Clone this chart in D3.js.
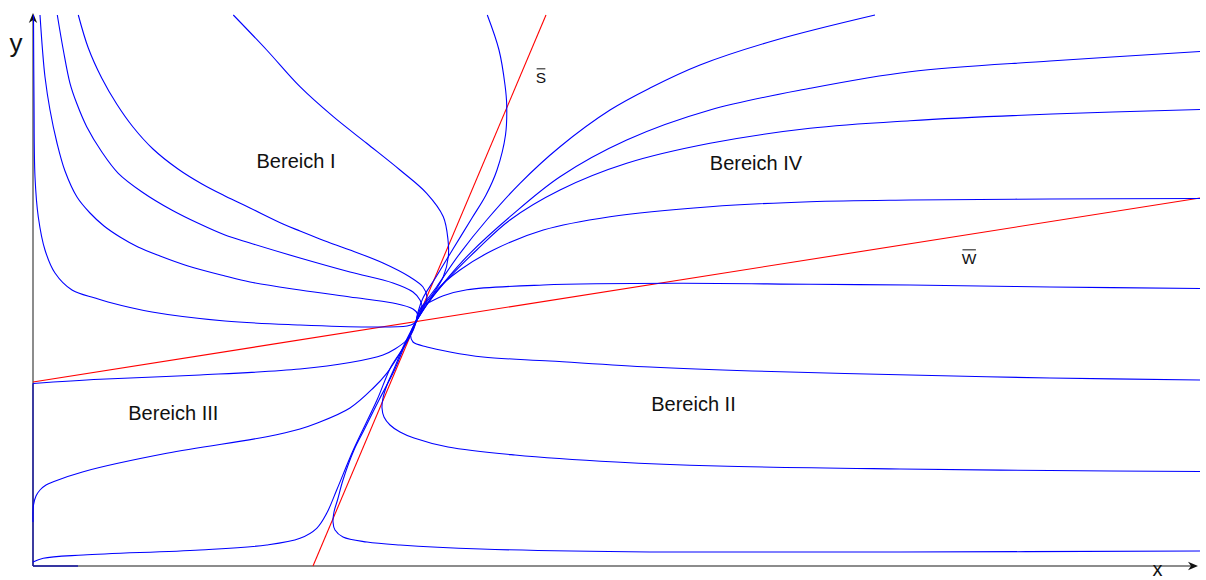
<!DOCTYPE html>
<html>
<head>
<meta charset="utf-8">
<script src="https://cdn.jsdelivr.net/npm/d3@7"></script>
<style>
  html, body { margin: 0; padding: 0; background: #fff; }
  svg { display: block; }
  text { font-family: "Liberation Sans", Arial, Helvetica, sans-serif; fill: #111; }
</style>
</head>
<body>
<svg id="chart" width="1206" height="580"></svg>
<script>
// ---- phase diagram data (x, y in model units) ----
const xDomain = [0, 116.7];
const yDomain = [0, 55.1];

const equilibrium = [38.3, 24.45];

// isoclines
const isoclineS = [[28.0, 0], [51.3, 55.1]];
const isoclineW = [[0, 18.4], [116.7, 36.8]];

// Bereich I: trajectories running into the equilibrium from the upper left
const bereichI = [
  [[4.53,55.1],[5.53,51.8],[6.87,48.8],[8.37,46.2],[10.0,43.9],[12.0,41.7],[14.5,39.7],[16.9,38.2],[19.2,37.0],[21.7,35.8],[25.0,34.2],[26.7,33.5],[30.0,32.2],[31.7,31.6],[35.0,30.3],[37.7,28.9],[39.0,27.9],[39.4,26.9],[39.1,25.9]],
  [[2.43,55.1],[3.03,51.6],[3.7,48.27],[4.37,46.27],[5.37,43.93],[6.87,41.43],[8.53,39.27],[10.87,37.43],[13.87,35.6],[16.53,34.27],[19.2,33.1],[21.7,32.3],[26.7,30.8],[31.7,29.4],[36.0,28.3],[38.0,27.4],[38.7,26.6],[38.9,25.9]],
  [[0.7,55.1],[0.95,51.6],[1.2,48.9],[1.7,45.6],[2.4,42.3],[3.2,39.5],[4.4,36.9],[5.7,35.3],[7.1,34.0],[8.7,32.9],[10.5,31.9],[12.7,31.0],[15.5,30.0],[19.2,29.0],[21.7,28.4],[26.7,27.6],[31.7,26.9],[36.0,26.3],[38.0,25.7],[38.5,25.1]],
  [[0.05,55.1],[0.1,46.6],[0.2,38.9],[0.53,34.9],[1.2,31.6],[2.2,29.3],[3.9,27.6],[6.2,26.8],[7.5,26.4],[11.9,25.4],[19.2,24.5],[26.7,24.1],[33.4,23.9],[37.4,24.0],[38.1,24.25]],
  [[20.03,55.1],[23.37,51.6],[26.7,47.93],[30.03,44.93],[33.37,42.27],[36.7,39.6],[39.37,37.27],[41.03,34.93],[41.5,32.6],[41.53,30.93],[41.03,28.93],[40.03,27.27],[39.03,25.93]],
  [[45.43,55.1],[46.6,51.6],[47.2,48.1],[47.37,46.1],[47.25,43.1],[46.4,39.6],[45.3,37.1],[43.9,34.8],[42.0,31.7],[40.3,28.9],[39.0,26.8],[38.5,25.4]]
];

// Bereich IV: trajectories leaving the equilibrium towards the upper right
const bereichIV = [
  [[38.7,25.6],[40.37,27.93],[42.7,31.27],[45.37,34.6],[48.7,38.27],[52.7,41.93],[57.7,45.6],[61.7,47.8],[66.7,50.1],[74.3,52.6],[84.2,55.1]],
  [[39.3,26.0],[41.03,28.27],[43.7,31.27],[47.7,34.93],[52.7,38.93],[59.37,42.6],[67.7,45.6],[77.7,47.77],[87.7,49.43],[101.7,50.5],[116.7,51.45]],
  [[39.4,26.2],[41.7,28.93],[44.37,31.6],[47.7,34.6],[52.7,37.6],[59.37,40.27],[67.7,42.27],[77.7,43.77],[87.7,44.53],[101.9,45.2],[116.7,45.65]],
  [[39.3,26.0],[40.37,27.6],[42.7,29.6],[46.03,31.6],[51.03,33.6],[57.7,34.93],[67.7,35.93],[77.7,36.43],[87.7,36.6],[101.7,36.7],[116.7,36.75]],
  [[38.9,26.0],[39.7,26.4],[41.03,27.03],[43.4,27.63],[51.03,28.1],[64.37,28.27],[77.7,28.17],[87.7,28.1],[101.7,27.9],[116.7,27.75]]
];

// Bereich II: trajectories leaving the equilibrium towards the lower right
const bereichII = [
  [[37.9,23.7],[37.75,23.1],[38.0,22.4],[39.4,21.9],[41.7,21.4],[45.0,20.9],[51.7,20.5],[61.7,19.9],[71.9,19.5],[87.7,19.1],[101.7,18.8],[116.7,18.6]],
  [[37.1,22.1],[36.1,19.7],[35.4,18.1],[35.0,16.8],[34.9,15.8],[35.1,14.9],[35.7,14.1],[36.7,13.4],[38.1,12.8],[41.5,11.9],[48.2,11.1],[58.3,10.4],[68.5,10.0],[86.7,9.7],[101.7,9.55],[116.7,9.45]],
  [[37.2,22.1],[36.15,19.6],[34.6,16.6],[33.1,13.6],[32.1,11.6],[31.0,8.6],[30.45,6.6],[30.1,5.4],[30.0,4.4],[30.2,3.6],[31.0,2.9],[33.4,2.4],[36.7,2.1],[44.8,1.7],[61.7,1.4],[86.7,1.4],[116.7,1.5]]
];

// Bereich III: trajectories running into the equilibrium from the lower left
const bereichIII = [
  [[0,18.25],[6.7,18.67],[16.7,19.1],[26.7,19.7],[31.7,20.35],[35.0,21.1],[36.2,21.7],[37.37,22.6],[37.9,23.5]],
  [[0,4.4],[0.05,6.1],[0.3,7.0],[0.7,7.6],[1.3,8.1],[2.03,8.43],[5.03,9.43],[13.37,11.27],[23.37,12.93],[26.7,13.7],[28.37,14.27],[31.7,15.8],[34.03,17.8],[35.37,19.27],[36.7,21.27],[38.03,23.6]],
  [[0,0.4],[1.03,0.77],[5.03,1.1],[16.7,1.6],[23.37,2.1],[26.7,2.77],[28.37,3.77],[29.37,5.27],[30.37,7.6],[32.03,11.6],[34.4,16.6],[35.8,19.93],[37.2,22.1]]
];

// trajectories lying on the axes
const axisTrajectories = [
  [[0,0],[0,18.25]],
  [[0,0],[4.5,0]]
];

const regionNames = ["Bereich I", "Bereich II", "Bereich III", "Bereich IV"];
const isoclineNames = ["S", "W"];
const axisNames = ["x", "y"];

// ---- drawing ----
const svg = d3.select("#chart");
const x = d3.scaleLinear().domain(xDomain).range([33, 1200]);
const y = d3.scaleLinear().domain(yDomain).range([566, 15]);

const smooth = d3.line()
  .x(d => x(d[0]))
  .y(d => y(d[1]))
  .curve(d3.curveCatmullRom.alpha(0.5));
const straight = d3.line().x(d => x(d[0])).y(d => y(d[1]));

// axes with arrow heads
const axisG = svg.append("g");
const xTip = x(xDomain[1]) - 2, yTip = y(yDomain[1]) - 2;
axisG.append("line")
  .attr("x1", x(0)).attr("y1", y(0)).attr("x2", xTip - 4).attr("y2", y(0))
  .attr("stroke", "#666").attr("stroke-width", 1.5);
axisG.append("line")
  .attr("x1", x(0)).attr("y1", y(0)).attr("x2", x(0)).attr("y2", yTip + 4)
  .attr("stroke", "#666").attr("stroke-width", 1.5);
const head = "M0,0 L-10,-4.2 L-7,0 L-10,4.2 Z";
axisG.append("path").attr("d", head).attr("fill", "#111")
  .attr("transform", `translate(${xTip},${y(0)})`);
axisG.append("path").attr("d", head).attr("fill", "#111")
  .attr("transform", `translate(${x(0)},${yTip}) rotate(-90)`);

// trajectories on the axes
svg.append("g").selectAll("path").data(axisTrajectories).join("path")
  .attr("d", straight)
  .attr("fill", "none").attr("stroke", "#1a1aa8").attr("stroke-width", 1.4);

// isoclines
svg.append("g").selectAll("path").data([isoclineS, isoclineW]).join("path")
  .attr("d", straight)
  .attr("fill", "none").attr("stroke", "#ff0000").attr("stroke-width", 1.1);

// trajectories
const inbound = bereichI.concat(bereichIII).map(t => t.concat([equilibrium]));
const outbound = bereichIV.concat(bereichII).map(t => [equilibrium].concat(t));
svg.append("g").selectAll("path").data(inbound.concat(outbound)).join("path")
  .attr("d", smooth)
  .attr("fill", "none").attr("stroke", "#0000ff").attr("stroke-width", 1.1)
  .attr("stroke-linejoin", "round");

// region labels
const regionAnchors = [[26.3, 39.8], [66.05, 15.55], [14.03, 14.6], [72.3, 39.6]];
svg.append("g").selectAll("text").data(regionNames).join("text")
  .attr("x", (d, i) => x(regionAnchors[i][0]))
  .attr("y", (d, i) => y(regionAnchors[i][1]))
  .attr("text-anchor", "middle")
  .attr("font-size", 20)
  .text(d => d);

// isocline labels (overlined)
const isoSize = 15.5;
const isoAnchors = [[50.8, 48.3], [93.6, 30.2]];
const isoG = svg.append("g");
isoclineNames.forEach((name, i) => {
  const t = isoG.append("text")
    .attr("x", x(isoAnchors[i][0]))
    .attr("y", y(isoAnchors[i][1]))
    .attr("text-anchor", "middle")
    .attr("font-size", isoSize)
    .text(name);
  const bb = t.node().getBBox();
  const capTop = y(isoAnchors[i][1]) - isoSize * 0.72;
  isoG.append("line")
    .attr("x1", bb.x + 0.8).attr("x2", bb.x + bb.width - 0.8)
    .attr("y1", capTop - 3).attr("y2", capTop - 3)
    .attr("stroke", "#111").attr("stroke-width", 1);
});

// axis labels
const axisAnchors = [[112.45, -1.0], [-1.7, 51.37]];
svg.append("g").selectAll("text").data(axisNames).join("text")
  .attr("x", (d, i) => x(axisAnchors[i][0]))
  .attr("y", (d, i) => y(axisAnchors[i][1]))
  .attr("text-anchor", "middle")
  .attr("font-size", (d, i) => i === 0 ? 20 : 26)
  .text(d => d);
</script>
</body>
</html>
